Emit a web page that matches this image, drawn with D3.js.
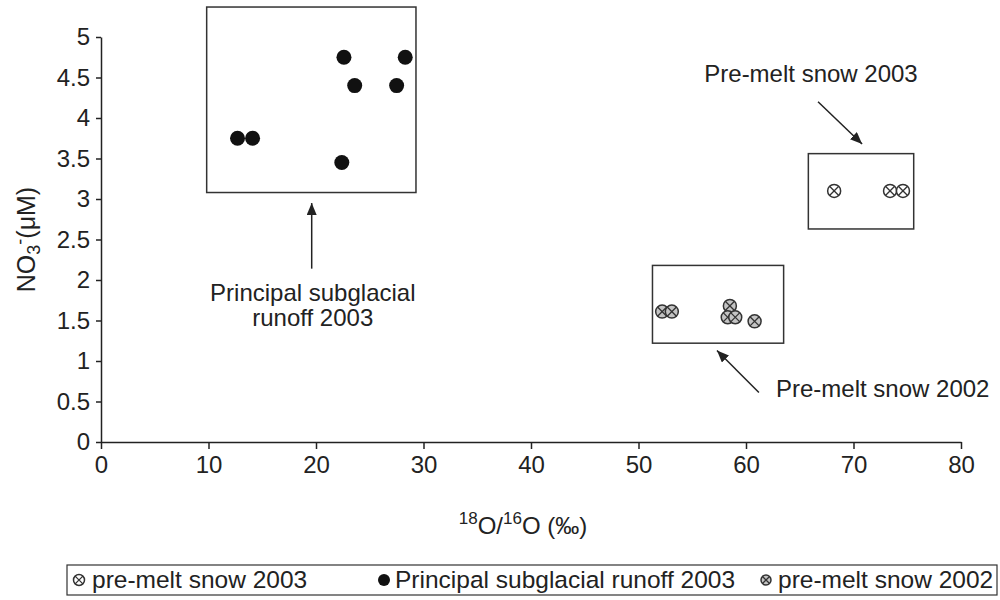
<!DOCTYPE html>
<html>
<head>
<meta charset="utf-8">
<script src="https://cdn.jsdelivr.net/npm/d3@7"></script>
<style>
  body { margin: 0; background: #fff; }
  text { font-family: "Liberation Sans", Arial, sans-serif; fill: #222; }
</style>
</head>
<body>
<div id="chart"></div>
<script>
// values
const runoffX = [12.7, 14.1, 22.6, 28.3, 23.6, 27.5, 22.4];
const runoffY = [3.75, 3.75, 4.75, 4.75, 4.4, 4.4, 3.45];
const snow2002X = [52.2, 53.1, 58.5, 58.3, 59.0, 60.8];
const snow2002Y = [1.61, 1.61, 1.68, 1.54, 1.54, 1.49];
const snow2003X = [68.2, 73.4, 74.6];
const snow2003Y = [3.1, 3.1, 3.1];

const xTicks = [0, 10, 20, 30, 40, 50, 60, 70, 80];
const yTicks = [0, 0.5, 1, 1.5, 2, 2.5, 3, 3.5, 4, 4.5, 5];

// group frames drawn around each cluster (data units)
const boxX0 = [9.83, 51.3, 65.8];
const boxX1 = [29.3, 63.5, 75.6];
const boxY0 = [3.08, 1.22, 2.63];
const boxY1 = [5.37, 2.18, 3.56];

const legendLabels = ["pre-melt snow 2003", "Principal subglacial runoff 2003", "pre-melt snow 2002"];

const width = 1000, height = 600;
const margin = {top: 37, right: 39, bottom: 158, left: 101};

const svg = d3.select("#chart").append("svg")
    .attr("width", width)
    .attr("height", height);

const x = d3.scaleLinear().domain([0, 80]).range([margin.left, width - margin.right]);
const y = d3.scaleLinear().domain([0, 5]).range([height - margin.bottom, margin.top]);

svg.append("defs").append("marker")
    .attr("id", "head")
    .attr("viewBox", "0 0 12 10")
    .attr("refX", 12).attr("refY", 5)
    .attr("markerWidth", 12).attr("markerHeight", 10)
    .attr("markerUnits", "userSpaceOnUse")
    .attr("orient", "auto")
  .append("path")
    .attr("d", "M0,0 L12,5 L0,10 z")
    .attr("fill", "#222");

// axes
const xAxis = svg.append("g")
    .attr("transform", "translate(0," + y(0) + ")")
    .call(d3.axisBottom(x).tickValues(xTicks).tickSize(7).tickPadding(7).tickSizeOuter(0));
const yAxis = svg.append("g")
    .attr("transform", "translate(" + x(0) + ",0)")
    .call(d3.axisLeft(y).tickValues(yTicks).tickFormat(d3.format("~g")).tickSize(5).tickPadding(6).tickSizeOuter(0));

[xAxis, yAxis].forEach(function(g) {
    g.selectAll("path, line").attr("stroke", "#222").attr("stroke-width", 1.5);
    g.selectAll("text").attr("font-size", 24).attr("fill", "#222")
        .attr("font-family", "'Liberation Sans', Arial, sans-serif");
});

// axis titles
const yTitle = svg.append("text")
    .attr("transform", "translate(35," + y(2.5) + ") rotate(-90)")
    .attr("text-anchor", "middle")
    .attr("font-size", 25);
yTitle.append("tspan").text("NO");
yTitle.append("tspan").attr("font-size", 18).attr("dy", 5).text("3");
yTitle.append("tspan").attr("font-size", 18).attr("dy", -14).text("-");
yTitle.append("tspan").attr("dy", 9).text("(μM)");

const xTitle = svg.append("text")
    .attr("x", 523).attr("y", 534)
    .attr("text-anchor", "middle")
    .attr("font-size", 24);
xTitle.append("tspan").attr("font-size", 17).attr("dy", -10).text("18");
xTitle.append("tspan").attr("dy", 10).text("O/");
xTitle.append("tspan").attr("font-size", 17).attr("dy", -10).text("16");
xTitle.append("tspan").attr("dy", 10).text("O (‰)");

// cluster frames
svg.append("g").selectAll("rect")
    .data(boxX0)
    .enter()
    .append("rect")
    .attr("x", function(d) { return x(d); })
    .attr("y", function(d, i) { return y(boxY1[i]); })
    .attr("width", function(d, i) { return x(boxX1[i]) - x(d); })
    .attr("height", function(d, i) { return y(boxY0[i]) - y(boxY1[i]); })
    .attr("fill", "none")
    .attr("stroke", "#333")
    .attr("stroke-width", 1.5);

// crossed-circle marker
function crossMarker(g, cx, cy, r, fill) {
    const k = r * 0.707;
    g.append("circle").attr("cx", cx).attr("cy", cy).attr("r", r)
        .attr("fill", fill).attr("stroke", "#333").attr("stroke-width", 1.5);
    g.append("path")
        .attr("d", "M" + (cx - k) + "," + (cy - k) + "L" + (cx + k) + "," + (cy + k) +
                   "M" + (cx - k) + "," + (cy + k) + "L" + (cx + k) + "," + (cy - k))
        .attr("stroke", "#333").attr("stroke-width", 1.3);
}

const pts = svg.append("g");
runoffX.forEach(function(d, i) {
    pts.append("circle").attr("cx", x(d)).attr("cy", y(runoffY[i])).attr("r", 7.5).attr("fill", "#111");
});
snow2002X.forEach(function(d, i) {
    crossMarker(pts, x(d), y(snow2002Y[i]), 6.5, "#c4c4c4");
});
snow2003X.forEach(function(d, i) {
    crossMarker(pts, x(d), y(snow2003Y[i]), 6.5, "#fff");
});

// annotations
function arrow(x1, y1, x2, y2) {
    svg.append("line")
        .attr("x1", x(x1)).attr("y1", y(y1)).attr("x2", x(x2)).attr("y2", y(y2))
        .attr("stroke", "#222").attr("stroke-width", 1.5)
        .attr("marker-end", "url(#head)");
}
arrow(19.6, 2.14, 19.6, 2.95);
arrow(66.7, 4.2, 70.8, 3.68);
arrow(61.2, 0.61, 57.3, 1.13);

svg.append("text").attr("x", x(19.7)).attr("y", 301).attr("text-anchor", "middle")
    .attr("font-size", 24).text("Principal subglacial");
svg.append("text").attr("x", x(19.7)).attr("y", 326).attr("text-anchor", "middle")
    .attr("font-size", 24).text("runoff 2003");
svg.append("text").attr("x", 811).attr("y", 82).attr("text-anchor", "middle")
    .attr("font-size", 24).text("Pre-melt snow 2003");
svg.append("text").attr("x", 776).attr("y", 397)
    .attr("font-size", 24).text("Pre-melt snow 2002");

// legend
const legend = svg.append("g");
legend.append("rect")
    .attr("x", 67).attr("y", 565).attr("width", 930).attr("height", 30)
    .attr("fill", "none").attr("stroke", "#333").attr("stroke-width", 1.2);
const legendIconX = [79, 384, 766];
const legendTextX = [92, 395, 778];
crossMarker(legend, legendIconX[0], 580, 5.5, "#fff");
legend.append("circle").attr("cx", legendIconX[1]).attr("cy", 580).attr("r", 6).attr("fill", "#111");
crossMarker(legend, legendIconX[2], 580, 5, "#c4c4c4");
legendLabels.forEach(function(d, i) {
    legend.append("text").attr("x", legendTextX[i]).attr("y", 588)
        .attr("font-size", 24.5).text(d);
});
</script>
</body>
</html>
